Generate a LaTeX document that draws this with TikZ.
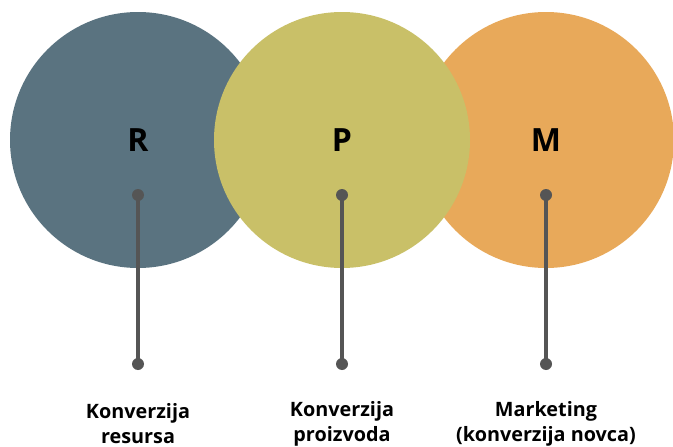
\documentclass[tikz,border=0pt]{standalone}
\usepackage{fontspec}
\setmainfont{Open Sans}
\definecolor{cR}{HTML}{5A7380}
\definecolor{cP}{HTML}{C9C068}
\definecolor{cM}{HTML}{E8A95A}
\definecolor{stem}{HTML}{555555}
\begin{document}
\begin{tikzpicture}[x=1pt,y=-1pt,
  disc/.style={circle,minimum size=256pt,inner sep=0pt,draw=none},
  letter/.style={font=\bfseries\fontsize{32}{32}\selectfont,text=black},
  dot/.style={circle,fill=stem,minimum size=12pt,inner sep=0pt},
  stemline/.style={draw=stem,line width=4pt},
  caption/.style={font=\bfseries\fontsize{19.8}{25}\selectfont,align=center,text=black}]
\useasboundingbox (0,0) rectangle (673,447);
% discs: R and M first, P on top
\node[disc,fill=cR] (cr) at (138,140) {};
\node[disc,fill=cM] (cm) at (546,140) {};
\node[disc,fill=cP] (cp) at (342,140) {};
\node[letter] at (138,140) {R};
\node[letter] at (342,140) {P};
\node[letter] at (546,140) {M};
% stems with dots at both ends
\foreach \n/\x in {r/138,p/342,m/546}{
  \node[dot] (t\n) at (\x,195) {};
  \node[dot] (b\n) at (\x,364) {};
  \draw[stemline] (t\n.center) -- (b\n.center);
}
\node[caption] (lr) at (138,424) {Konverzija\\resursa};
\node[caption] (lp) at (342,424) {Konverzija\\proizvoda};
\node[caption] (lm) at (546,424) {Marketing\\(konverzija novca)};
\end{tikzpicture}
\end{document}
